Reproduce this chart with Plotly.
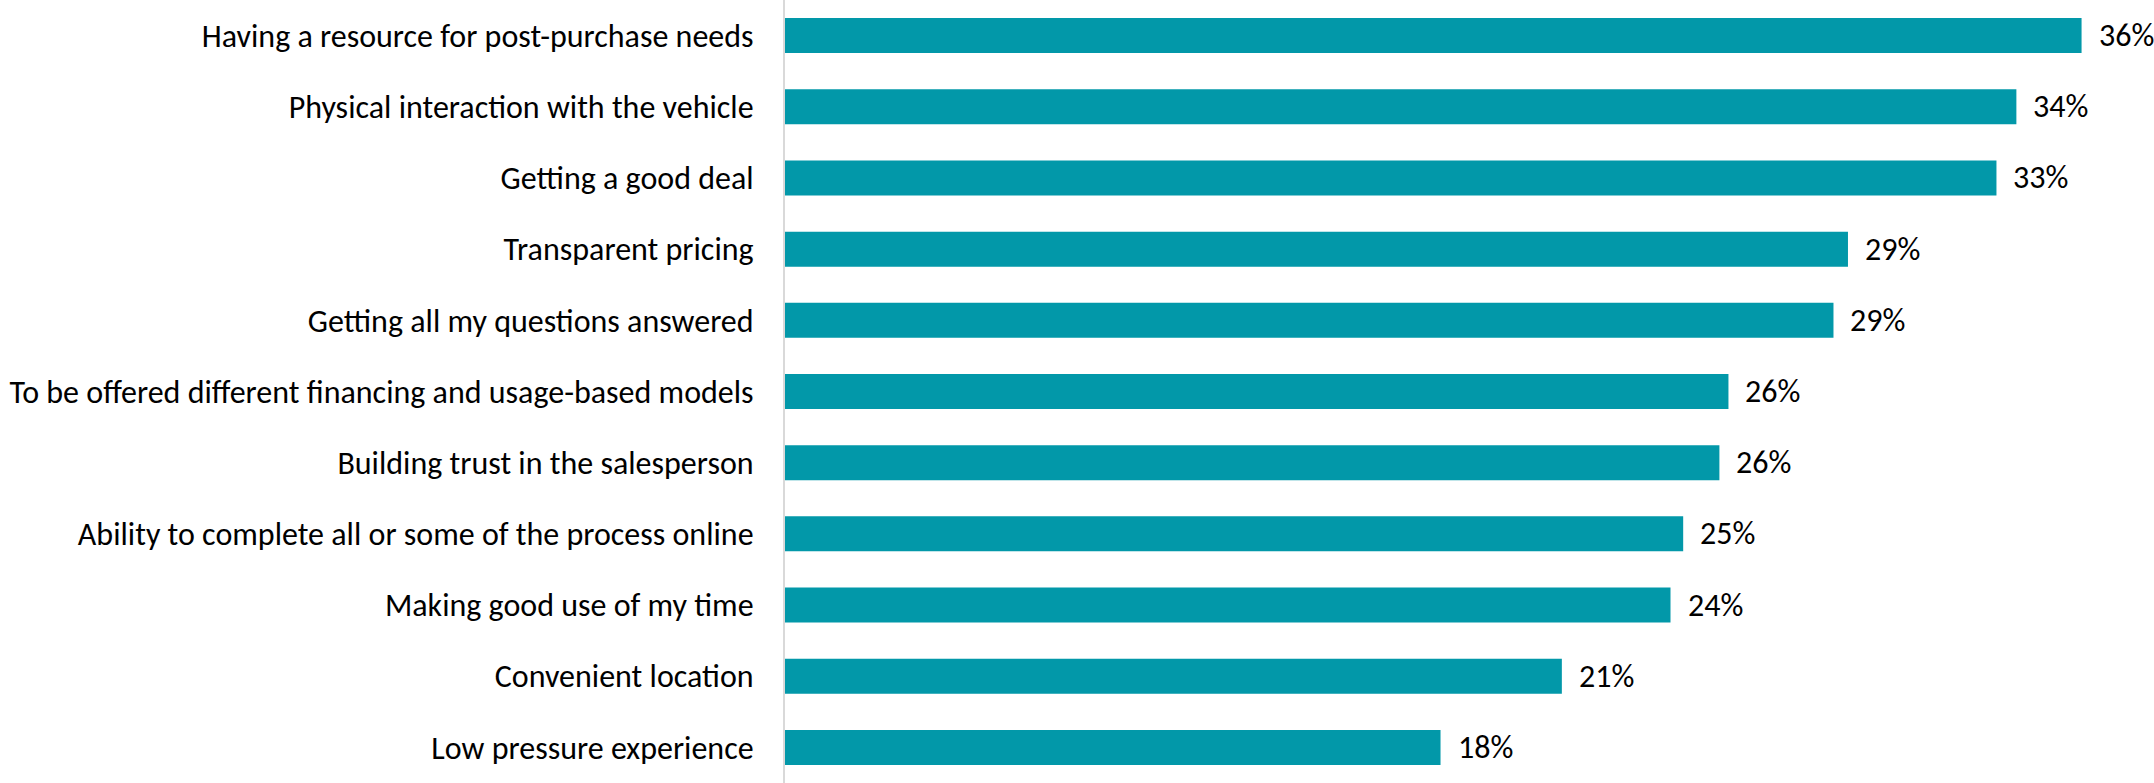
import plotly.graph_objects as go

# Share of respondents rating each factor as important (percent)
categories = [
    "Having a resource for post-purchase needs",
    "Physical interaction with the vehicle",
    "Getting a good deal",
    "Transparent pricing",
    "Getting all my questions answered",
    "To be offered different financing and usage-based models",
    "Building trust in the salesperson",
    "Ability to complete all or some of the process online",
    "Making good use of my time",
    "Convenient location",
    "Low pressure experience",
]
values = [35.8, 34.0, 33.45, 29.35, 28.95, 26.05, 25.8, 24.8, 24.45, 21.45, 18.1]

BAR_COLOR = "#0298A9"
FONT = "Calibri, Carlito, Lato, sans-serif"
FONT_SIZE = 32

fig = go.Figure(
    go.Bar(
        x=values,
        y=categories,
        orientation="h",
        marker=dict(color=BAR_COLOR, line=dict(width=0)),
        hoverinfo="skip",
    )
)

# Value labels to the right of each bar
for cat, v in zip(categories, values):
    fig.add_annotation(
        x=v, y=cat, text=f"{v:.0f}%", showarrow=False,
        xanchor="left", yanchor="middle", xshift=15,
        font=dict(family=FONT, size=FONT_SIZE, color="#000000"),
    )

fig.update_layout(
    width=2154, height=783,
    margin=dict(l=785, r=0, t=0, b=0),
    paper_bgcolor="white", plot_bgcolor="white",
    bargap=0.508,
    showlegend=False,
    font=dict(family=FONT, size=FONT_SIZE, color="#000000"),
)
fig.update_xaxes(range=[0, 37.8], visible=False, fixedrange=True)
fig.update_yaxes(
    categoryorder="array", categoryarray=categories[::-1],
    showline=True, linecolor="#D9D9D9", linewidth=2,
    ticks="outside", ticklen=23, tickcolor="rgba(0,0,0,0)",
    showgrid=False, automargin=False,
    tickfont=dict(family=FONT, size=FONT_SIZE, color="#000000"),
)

fig.write_html("out.html")
